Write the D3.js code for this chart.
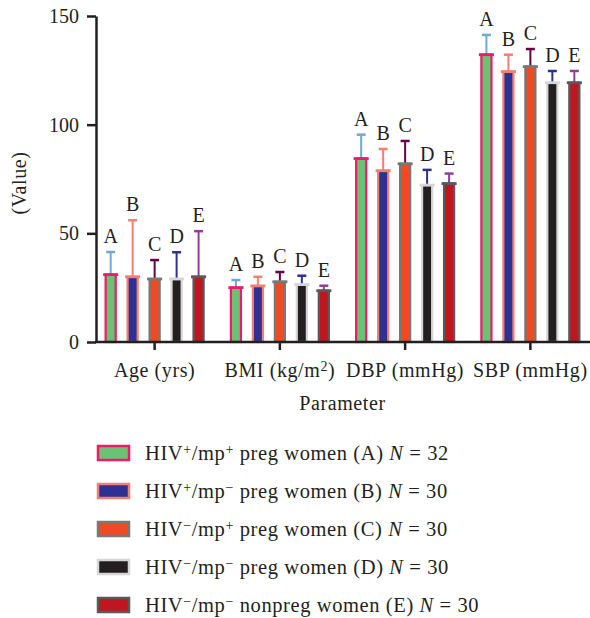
<!DOCTYPE html>
<html>
<head>
<meta charset="utf-8">
<script src="https://cdn.jsdelivr.net/npm/d3@7"></script>
<style>
  body { margin: 0; background: #fff; }
  svg text { font-family: "Liberation Serif", "DejaVu Serif", serif; fill: #231f20; }
  .wide { letter-spacing: 0.6px; }
</style>
</head>
<body>
<svg class="chart" width="590" height="618"></svg>
<script>
  // data
  const categories = ['Age', 'BMI', 'DBP', 'SBP'];
  const groups = ['A', 'B', 'C', 'D', 'E'];
  const meanA = [31, 25, 84.4, 132.2];
  const meanB = [30, 25.8, 78.8, 124.4];
  const meanC = [29, 27.7, 82, 126.7];
  const meanD = [29, 26.4, 72.2, 119.3];
  const meanE = [30, 23.6, 72.9, 119.3];
  const sdA = [10.4, 3.5, 11, 9.1];
  const sdB = [26, 4.2, 10, 7.8];
  const sdC = [8.7, 4.5, 10.5, 8.1];
  const sdD = [12.3, 4.1, 7, 5.4];
  const sdE = [21, 2.3, 4.6, 5.4];
  const yTicks = [0, 50, 100, 150];
  const groupN = [32, 30, 30, 30, 30];
  const hivSign = ['+', '+', '\u2212', '\u2212', '\u2212'];
  const mpSign = ['+', '\u2212', '+', '\u2212', '\u2212'];
  const womenType = ['preg', 'preg', 'preg', 'preg', 'nonpreg'];

  const means = [meanA, meanB, meanC, meanD, meanE];
  const sds = [sdA, sdB, sdC, sdD, sdE];

  const fillColors = ['#6cc274', '#2e3192', '#ef4a24', '#231f20', '#c1151f'];
  const strokeColors = ['#ec1c6a', '#f37f73', '#777877', '#d6d6d6', '#58595b'];
  const errColors = ['#6fa8d8', '#f37f73', '#690046', '#2e3192', '#8e3f98'];

  const svg = d3.select('.chart');
  const margin = { left: 96, right: 0, top: 16, bottom: 276 };
  const axisBottomY = 342;

  const x0 = d3.scaleBand()
    .domain(categories)
    .range([92, 593]);

  const x1 = d3.scaleBand()
    .domain(groups)
    .range([-50, 50])
    .paddingInner(0.45)
    .paddingOuter(0);

  const y = d3.scaleLinear()
    .domain([0, 150])
    .range([axisBottomY, margin.top]);

  // y axis
  const yAxis = svg.append('g')
    .attr('transform', `translate(${margin.left},0)`)
    .call(d3.axisLeft(y).tickValues(yTicks).tickSize(9).tickPadding(8).tickSizeOuter(0));
  yAxis.select('.domain').attr('stroke', '#231f20').attr('stroke-width', 2.5);
  yAxis.selectAll('.tick line').attr('stroke', '#231f20').attr('stroke-width', 2.5);
  yAxis.selectAll('.tick text')
    .style('font-size', '20px')
    .style('font-family', '"Liberation Serif", serif')
    .attr('fill', '#231f20');

  // x axis
  const xAxis = svg.append('g')
    .attr('transform', `translate(0,${axisBottomY})`)
    .call(d3.axisBottom(x0).tickSize(8).tickSizeOuter(0).tickFormat(''));
  xAxis.select('.domain').remove();
  xAxis.selectAll('.tick line').attr('stroke', '#231f20').attr('stroke-width', 2.5);

  const catLabels = [
    [['Age (yrs)', 0]],
    [['BMI (kg/m', 0], ['2', 1], [')', 0]],
    [['DBP (mmHg)', 0]],
    [['SBP (mmHg)', 0]]
  ];
  categories.forEach((c, i) => {
    const t = svg.append('text')
      .attr('class', 'wide')
      .attr('x', x0(c) + x0.bandwidth() / 2)
      .attr('y', 377)
      .attr('text-anchor', 'middle')
      .style('font-size', '20px');
    catLabels[i].forEach(p => {
      const ts = t.append('tspan').text(p[0]);
      if (p[1]) ts.attr('baseline-shift', '40%').style('font-size', '14px');
    });
  });

  svg.append('text')
    .attr('class', 'wide')
    .attr('x', x0('BMI') + x0.bandwidth())
    .attr('y', 410)
    .attr('text-anchor', 'middle')
    .style('font-size', '20px')
    .text('Parameter');

  svg.append('text')
    .attr('class', 'wide')
    .attr('transform', `translate(26,${(axisBottomY + margin.top) / 2 + 4}) rotate(-90)`)
    .attr('text-anchor', 'middle')
    .style('font-size', '20px')
    .text('(Value)');

  // bars
  groups.forEach((gName, gi) => {
    const g = svg.append('g').attr('class', 'group' + gName);
    categories.forEach((c, ci) => {
      const cx = x0(c) + x0.bandwidth() / 2 + x1(gName) + x1.bandwidth() / 2;
      const bw = x1.bandwidth();
      const m = means[gi][ci];
      const top = m + sds[gi][ci];

      // error bar
      g.append('line')
        .attr('x1', cx).attr('x2', cx)
        .attr('y1', y(m)).attr('y2', y(top))
        .attr('stroke', errColors[gi]).attr('stroke-width', 2);
      g.append('line')
        .attr('x1', cx - 4.5).attr('x2', cx + 4.5)
        .attr('y1', y(top)).attr('y2', y(top))
        .attr('stroke', errColors[gi]).attr('stroke-width', 2.5);

      g.append('rect')
        .attr('x', cx - bw / 2 + 1)
        .attr('y', y(m))
        .attr('width', bw - 2)
        .attr('height', y(0) - y(m))
        .attr('fill', fillColors[gi])
        .attr('stroke', strokeColors[gi])
        .attr('stroke-width', 2.2);
      g.append('line')
        .attr('x1', cx - bw / 2 - 1.5).attr('x2', cx + bw / 2 + 1.5)
        .attr('y1', y(m)).attr('y2', y(m))
        .attr('stroke', strokeColors[gi]).attr('stroke-width', 2.8);

      g.append('text')
        .attr('x', cx)
        .attr('y', y(top) - 9)
        .attr('text-anchor', 'middle')
        .style('font-size', '20px')
        .text(gName);
    });
  });
  // x axis line drawn over bar bottoms
  svg.append('line')
    .attr('x1', margin.left - 1).attr('x2', 590)
    .attr('y1', axisBottomY).attr('y2', axisBottomY)
    .attr('stroke', '#231f20').attr('stroke-width', 2.5);

  // legend
  const legend = svg.append('g').attr('class', 'legend');
  groups.forEach((gName, gi) => {
    const ly = 453 + gi * 38;
    legend.append('rect')
      .attr('x', 98).attr('y', ly - 7)
      .attr('width', 31).attr('height', 14)
      .attr('fill', fillColors[gi])
      .attr('stroke', strokeColors[gi])
      .attr('stroke-width', 2.5);
    const t = legend.append('text')
      .attr('class', 'wide')
      .attr('x', 145)
      .attr('y', ly + 7)
      .style('font-size', '20.5px');
    t.append('tspan').text('HIV');
    t.append('tspan').text(hivSign[gi]).attr('baseline-shift', '40%').style('font-size', '14px');
    t.append('tspan').text('/mp');
    t.append('tspan').text(mpSign[gi]).attr('baseline-shift', '40%').style('font-size', '14px');
    t.append('tspan').text(` ${womenType[gi]} women (${gName}) `);
    t.append('tspan').text('N').style('font-style', 'italic');
    t.append('tspan').text(` = ${groupN[gi]}`);
  });
</script>
</body>
</html>
